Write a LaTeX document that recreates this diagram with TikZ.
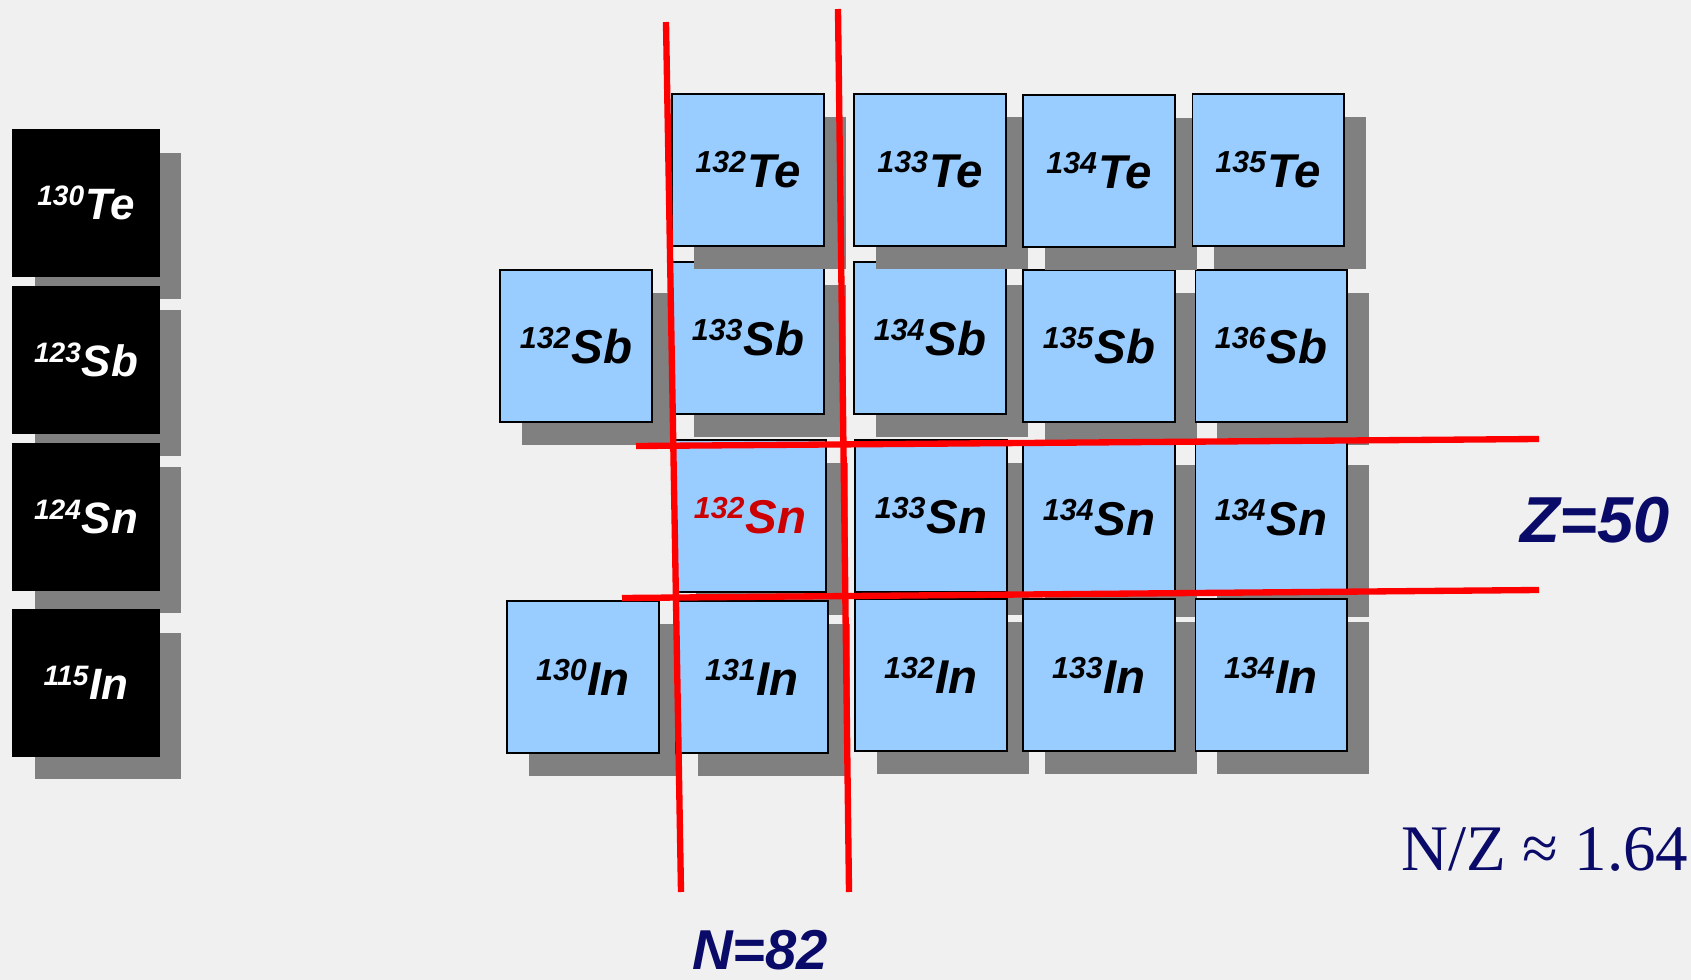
\documentclass[tikz,border=0pt]{standalone}
\usepackage{fontspec}
\setmainfont{Liberation Sans}
\newfontfamily\nzfont{Liberation Serif}
\usetikzlibrary{shadows}

\definecolor{slide}{RGB}{240,240,240}
\definecolor{cellblue}{RGB}{153,204,255}
\definecolor{shade}{RGB}{128,128,128}
\definecolor{navy}{RGB}{10,10,104}
\definecolor{magicred}{RGB}{204,0,0}

\newcommand{\nuc}[2]{\raisebox{.32em}{\scalebox{.64}{#1}}\kern.02em#2}

\begin{document}
\begin{tikzpicture}[
      x=0.02cm, y=-0.02cm,
      inner sep=0pt,
      cell/.style={draw=black, line width=.6pt, fill=cellblue,
        minimum size=3.04cm,
        font=\bfseries\itshape\fontsize{27}{27}\selectfont,
        drop shadow={shadow xshift=.44cm, shadow yshift=-.46cm,
          fill=shade, opacity=1}},
      refcell/.style={cell, fill=black, text=white, minimum size=2.94cm,
        font=\bfseries\itshape\fontsize{25}{25}\selectfont},
      shell/.style={red, line width=3.6pt},
      magic/.style={navy, anchor=base}
    ]
    \fill[slide] (0,0) rectangle (1691,980);

    % stable reference nuclei
    \node (te130) [refcell] at (86,203) {\nuc{130}{Te}};
    \node (sb123) [refcell] at (86,360) {\nuc{123}{Sb}};
    \node (sn124) [refcell] at (86,517) {\nuc{124}{Sn}};
    \node (in115) [refcell] at (86,683) {\nuc{115}{In}};

    % chart around 132Sn
    \node (sb132) [cell] at (576,346) {\nuc{132}{Sb}};
    \node (sb133) [cell] at (748,338) {\nuc{133}{Sb}};
    \node (sb134) [cell] at (930,338) {\nuc{134}{Sb}};
    \node (sb135) [cell] at (1099,346) {\nuc{135}{Sb}};
    \node (sb136) [cell] at (1271,346) {\nuc{136}{Sb}};

    \node (te132) [cell] at (748,170) {\nuc{132}{Te}};
    \node (te133) [cell] at (930,170) {\nuc{133}{Te}};
    \node (te134) [cell] at (1099,171) {\nuc{134}{Te}};
    \node (te135) [cell] at (1268,170) {\nuc{135}{Te}};

    \node (sn132) [cell, text=magicred] at (750,516) {\nuc{132}{Sn}};
    \node (sn133) [cell] at (931,516) {\nuc{133}{Sn}};
    \node (sn134) [cell] at (1099,518) {\nuc{134}{Sn}};
    \node (sn134b) [cell] at (1271,518) {\nuc{134}{Sn}};

    \node (in130) [cell] at (583,677) {\nuc{130}{In}};
    \node (in131) [cell] at (752,677) {\nuc{131}{In}};
    \node (in132) [cell] at (931,675) {\nuc{132}{In}};
    \node (in133) [cell] at (1099,675) {\nuc{133}{In}};
    \node (in134) [cell] at (1271,675) {\nuc{134}{In}};

    % shell closures
    \draw[shell] (666,22) -- (681,892);
    \draw[shell] (838,9) -- (849,892);
    \draw[shell] (636,446) -- (1539,439);
    \draw[shell] (622,598) -- (1539,590);

    \node (z50) [magic, font=\bfseries\itshape\fontsize{37}{37}\selectfont]
      at (1595,542) {Z=50};
    \node (n82) [magic, font=\bfseries\itshape\fontsize{32}{32}\selectfont]
      at (760,969) {N=82};
    \node (nz) [magic, font=\nzfont\fontsize{37}{37}\selectfont]
      at (1545,870) {N/Z ≈ 1.64};
  \end{tikzpicture}
\end{document}
